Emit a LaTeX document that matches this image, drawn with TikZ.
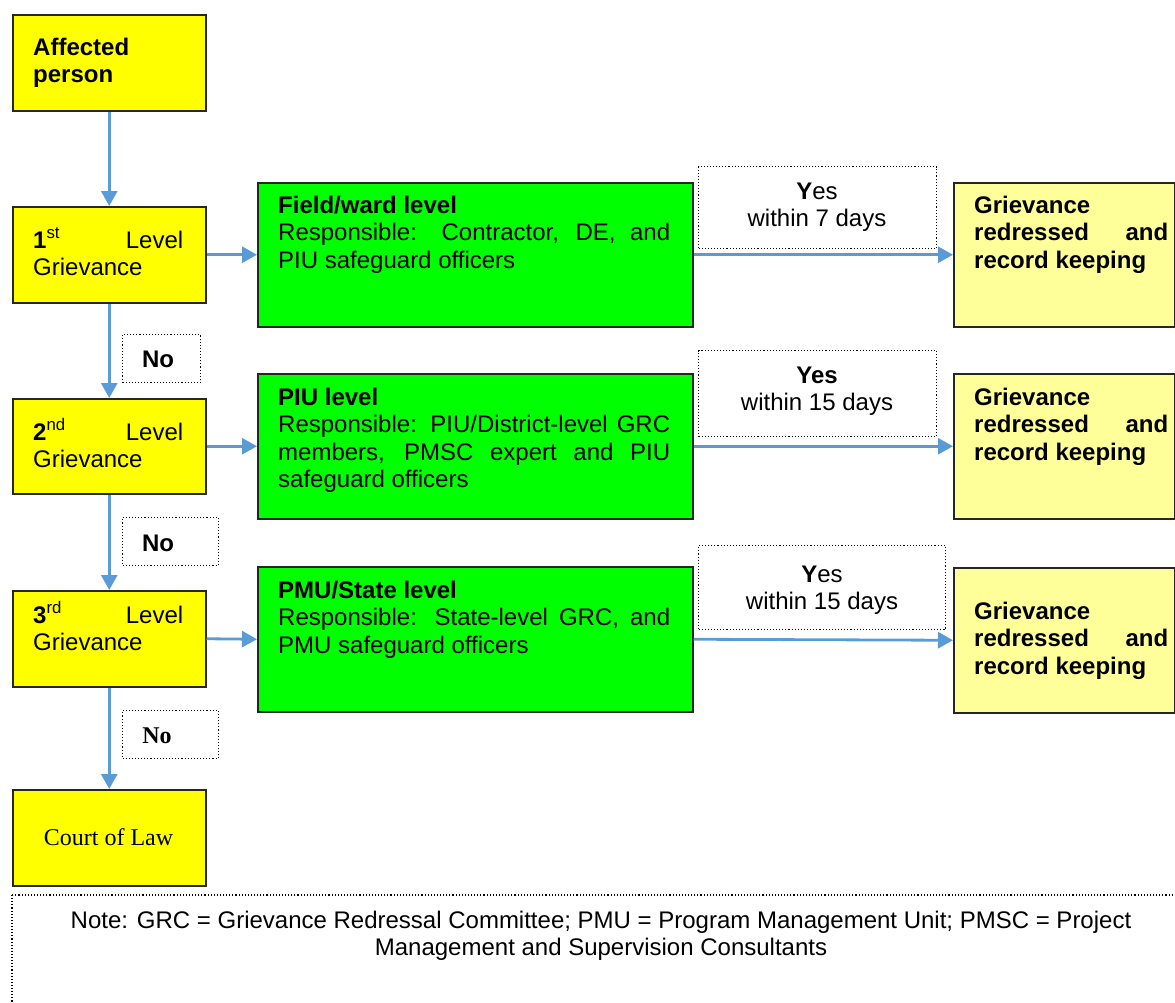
\documentclass[tikz,border=0pt]{standalone}
\usepackage{fontspec}
\setmainfont{Liberation Sans}
\newfontfamily\timesfont{Liberation Serif}
\usetikzlibrary{arrows.meta}
\definecolor{boxyellow}{HTML}{FFFF00}
\definecolor{boxgreen}{HTML}{00FF00}
\definecolor{lightyel}{HTML}{FFFF99}
\definecolor{arrowblue}{HTML}{5B9BD5}
\begin{document}
\begin{tikzpicture}[x={(1pt,0)},y={(0,-1pt)},
  every node/.style={font=\fontsize{24}{27.6}\selectfont},
  box/.style={draw=black!85, line width=1.5pt, inner sep=0pt, anchor=north west},
  ybox/.style={box, fill=boxyellow},
  gbox/.style={box, fill=boxgreen},
  lbox/.style={box, fill=lightyel},
  lab/.style={draw=black, dotted, line width=1.1pt, inner sep=0pt, anchor=north west},
  txt/.style={anchor=base west, inner sep=0pt, align=justify},
  ctxt/.style={anchor=base, inner sep=0pt, align=center},
  arr/.style={draw=arrowblue, line width=2.8pt, -{Triangle[length=15pt,width=16pt]}}
]
\useasboundingbox (0,0) rectangle (1175,1002);
\clip (0,0) rectangle (1175,1002);
% left column
\node[ybox, minimum width=193pt, minimum height=96pt] (aff) at (12,14) {};
\node[ybox, minimum width=193pt, minimum height=96pt] (l1) at (12,206) {};
\node[ybox, minimum width=193pt, minimum height=95pt] (l2) at (12,398) {};
\node[ybox, minimum width=193pt, minimum height=96pt] (l3) at (12,590) {};
\node[ybox, minimum width=193pt, minimum height=96pt] (court) at (12,789) {};
% green column
\node[gbox, minimum width=435pt, minimum height=144pt] (g1) at (257,182) {};
\node[gbox, minimum width=435pt, minimum height=145pt] (g2) at (257,373) {};
\node[gbox, minimum width=435pt, minimum height=145pt] (g3) at (257,566) {};
% right column
\node[lbox, minimum width=221pt, minimum height=144pt] (r1) at (953,182) {};
\node[lbox, minimum width=221pt, minimum height=145pt] (r2) at (953,373) {};
\node[lbox, minimum width=221pt, minimum height=145pt] (r3) at (953,567) {};
% yes labels
\node[lab, minimum width=238pt, minimum height=82pt] (y1) at (698,166) {};
\node[lab, minimum width=238pt, minimum height=86pt] (y2) at (698,350) {};
\node[lab, minimum width=247pt, minimum height=84pt] (y3) at (698,545) {};
% no labels
\node[lab, minimum width=78pt, minimum height=48pt] (n1) at (122,334) {};
\node[lab, minimum width=96pt, minimum height=48pt] (n2) at (122,517) {};
\node[lab, minimum width=96pt, minimum height=48pt] (n3) at (122,710) {};
% note box
\draw[black, dotted, line width=1.1pt] (12,895) rectangle (1190,1015);

% texts
\node[txt, text width=150pt] (taff) at (33,55) {\textbf{Affected}\\\textbf{person}};
\node[txt, text width=150pt] (tl1) at (33,248) {\textbf{1}\textsuperscript{st}\hfill Level\\Grievance};
\node[txt, text width=150pt] (tl2) at (33,440) {\textbf{2}\textsuperscript{nd}\hfill Level\\Grievance};
\node[txt, text width=150pt] (tl3) at (33,623) {\textbf{3}\textsuperscript{rd}\hfill Level\\Grievance};
\node[ctxt, font=\timesfont\fontsize{24}{27.6}\selectfont] (tcourt) at (108.5,845) {Court of Law};

\node[txt, text width=392pt] (tg1) at (278,213) {\textbf{Field/ward level}\\Responsible: Contractor, DE, and\linebreak PIU safeguard officers};
\node[txt, text width=392pt] (tg2) at (278,405) {\textbf{PIU level}\\Responsible: PIU/District-level GRC\linebreak members, PMSC expert and PIU\linebreak safeguard officers};
\node[txt, text width=392pt] (tg3) at (278,598) {\textbf{PMU/State level}\\Responsible: State-level GRC, and\linebreak PMU safeguard officers};

\node[txt, text width=194pt, font=\bfseries\fontsize{24}{27.6}\selectfont] (tr1) at (974,213) {Grievance\\redressed\hfill and\\record keeping};
\node[txt, text width=194pt, font=\bfseries\fontsize{24}{27.6}\selectfont] (tr2) at (974,405) {Grievance\\redressed\hfill and\\record keeping};
\node[txt, text width=194pt, font=\bfseries\fontsize{24}{27.6}\selectfont] (tr3) at (974,619) {Grievance\\redressed\hfill and\\record keeping};

% multi-line centred nodes: base anchor is on the last line
\node[ctxt] (ty1) at (817,226.6) {\textbf{Y}es\\within 7 days};
\node[ctxt] (ty2) at (817,410.6) {\textbf{Yes}\\within 15 days};
\node[ctxt] (ty3) at (822,609.6) {\textbf{Y}es\\within 15 days};

\node[ctxt, font=\bfseries\fontsize{24}{27.6}\selectfont] (tn1) at (158,367) {No};
\node[ctxt, font=\bfseries\fontsize{24}{27.6}\selectfont] (tn2) at (158,551) {No};
\node[ctxt, font=\timesfont\bfseries\fontsize{24}{27.6}\selectfont] (tn3) at (157,743) {No};

\node[ctxt] (tnote) at (601,955.6) {Note: GRC = Grievance Redressal Committee; PMU = Program Management Unit; PMSC = Project\\Management and Supervision Consultants};

% arrows
\draw[arr] (aff.south) -- (l1.north);
\draw[arr] (l1.south) -- (l2.north);
\draw[arr] (l2.south) -- (l3.north);
\draw[arr] (l3.south) -- (court.north);
\draw[arr] (l1.east) -- (g1.west);
\draw[arr] (l2.east) -- (g2.west);
\draw[arr] (l3.east) -- (g3.west);
\draw[arr] (g1.east) -- (r1.west);
\draw[arr] (g2.east) -- (r2.west);
\draw[arr] (g3.east) -- (r3.west);
\end{tikzpicture}
\end{document}
